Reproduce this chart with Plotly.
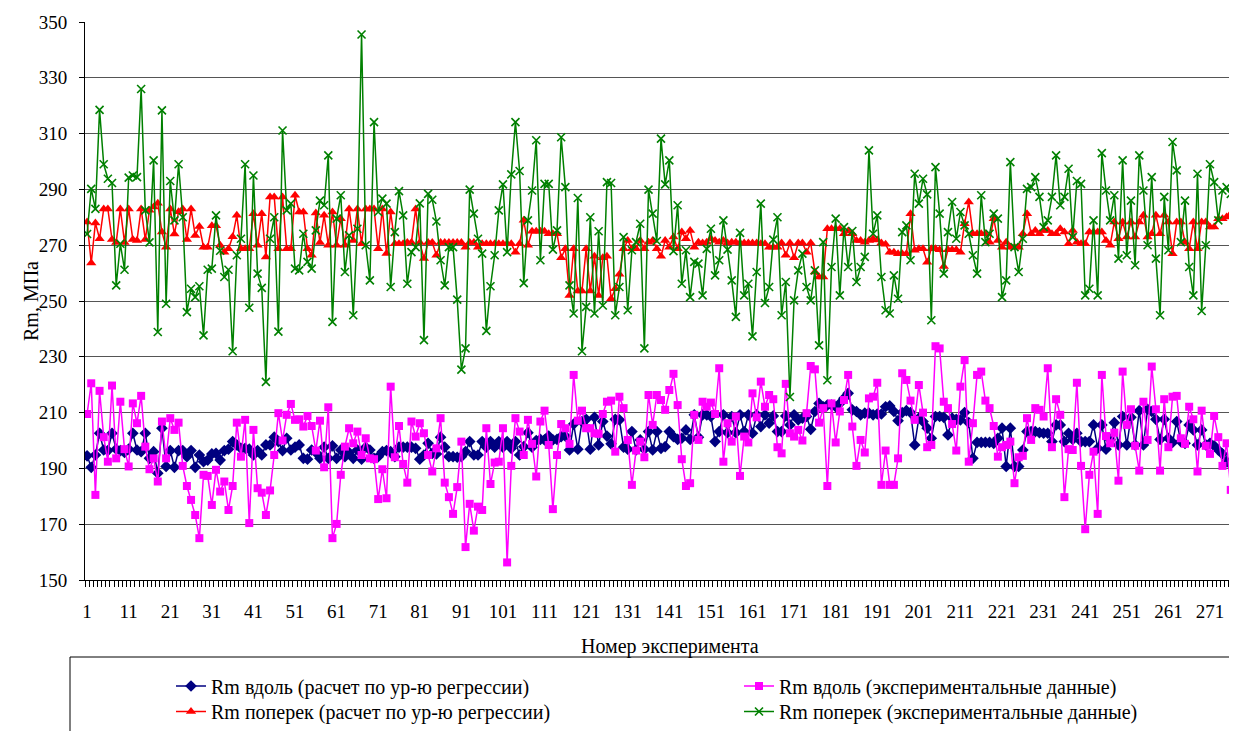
import plotly.graph_objects as go

# Rm along, regression calculation
rm_along_calc = [
    194.5, 190.4, 194.8, 202.6, 196.6, 196.4, 202.6, 196.9, 196.4, 195.7, 196.9, 202.6, 196.6, 196, 202.6, 193.6,
    196, 188.3, 204.4, 190.7, 196.4, 190.4, 196.4, 196.4, 194.2, 196.4, 190.4, 194.8, 192.4, 193, 195.2, 195.4,
    193, 196.4, 196.9, 199.6, 198.4, 197.2, 197.2, 196.9, 194.8, 196.4, 194.8, 198.4, 198.4, 201.2, 199.6,
    196.4, 200.8, 196.6, 197.6, 198.4, 193.6, 193.3, 196.6, 195.7, 193.6, 197.6, 193.6, 198.1, 193.6, 196.6, 194.2,
    195.7, 193.6, 196.6, 193.3, 197.6, 196.6, 193.6, 194.2, 196, 196.4, 196, 194.2, 197.6, 197.6, 197.6, 197.6,
    197.2, 193.3, 194.8, 199, 195.4, 195.2, 201.2, 197.6, 194.2, 194.2, 194, 194.2, 196, 199.6,
    194.8, 194.8, 199.6, 197.6, 199.6, 197.6, 199.6, 197.6, 199.6, 197.2, 199.6, 194.8, 197.8, 202.8, 197.6, 200,
    200.4, 200.2, 201.6, 200.2, 200.4, 201.4, 201.6, 196.6, 205.9, 196.9, 206.8, 207.6, 196.9, 208.3, 198.4, 206.8,
    201.6, 198.8, 207.6, 207.4, 197.6, 196.9, 203.2, 196.6, 200.2, 196.9, 203.2, 196.6, 203.2,
    197.2, 197.8, 203.2, 201.4, 200.4, 200.8, 203.8, 200.4, 209.2, 201.2, 209.2, 209.2, 208.6, 199.6, 203.2, 209.2,
    202.8, 208.6, 202.8, 209.2, 203.2, 209.2, 202.6, 209.2, 205, 209.2, 206.2, 208.8, 203.2, 203.2, 208.8, 205.6,
    209.2, 207.4, 208, 208.6, 204, 210.4, 213.3, 212.1, 212.7, 212.7, 212.1, 213.3, 215.1, 216.9,
    211, 210.4, 209.2, 209.8, 209.8, 209.2, 209.5, 209.5, 212.1, 212.4, 210.4, 207.1, 210, 210.7, 210, 198.4,
    208, 206.8, 204.4, 200.8, 208.6, 208.6, 208.3, 202, 208, 207.6, 207.4, 210, 206.4, 193.6, 199.3, 199.3,
    199.3, 199.3, 199, 200.8, 204.4, 190.7, 204.4, 190.7, 190.7, 196.6, 203.2, 203.2, 203.2,
    202.8, 202.6, 202.6, 199.6, 205.6, 205.6, 199.6, 202.6, 200.4, 202.6, 199.6, 199.6, 199.6, 205.6, 197.2, 205.6,
    196.9, 200.4, 206.4, 198.4, 208.6, 198.4, 208.3, 198.4, 210.7, 198.4, 211.2, 210.4, 207.6, 200.4, 207.6, 200.8,
    199.3, 206.8, 199.6, 199, 205.6, 203.8, 198.4, 203.8, 198.4, 199, 198.1, 196.6, 195.2, 192.4, 191.3, 190.9,
]

# Rm along, experimental data
rm_along_exp = [
    209.5, 220.5, 180.5, 217.8, 201.2, 192.4, 219.7, 193.6, 213.9, 196.9, 190.7, 213.3, 206.2, 216, 197.8, 189.7,
    193.6, 185.3, 206.8, 193.6, 208, 203.8, 206.4, 190.9, 183.7, 178.7, 173.3, 165, 187.7, 187.3, 176.9, 189.5,
    181.7, 185.3, 175.1, 183.7, 206.4, 194.2, 207.4, 170.4, 203.8, 182.9, 181.3, 173.3, 182.1, 194.8, 209.8,
    200, 209.2, 213.1, 207.4, 207.6, 205, 208.8, 205.2, 196.4, 207.1, 190.4, 211.9, 165, 170.1, 187.7, 197.8,
    204.4, 199, 203.2, 194.8, 200.8, 193.6, 193.3, 179, 189.7, 179.3, 219.3, 194, 205.2, 191.6, 184.9, 206.8,
    201.4, 206.2, 202.6, 194.8, 188.9, 197.2, 208, 184.9, 179.7, 173.7, 183.3, 199.6, 161.8, 177.3,
    167.7, 176.3, 175.1, 204.4, 184.4, 192.1, 192.4, 204.4, 156.3, 190.9, 208, 203.2, 194.8, 207.4, 198.8, 187.1,
    206.8, 210.7, 198.4, 175.4, 194.8, 205.9, 204.4, 198.8, 223.5, 207.1, 210.7, 204.4, 204.4, 202.6, 202.4, 209.5,
    213.9, 214.3, 196, 215.7, 211.6, 200.2, 184.1, 196.4, 199.6, 194, 216.3, 205.6, 216.3,
    214.5, 211, 218.1, 223.9, 212.7, 193.3, 183.7, 184.7, 209.2, 200.2, 213.9, 212.1, 213.6, 209.5, 225.9, 192.4,
    206.2, 199.6, 208.6, 187.3, 201.4, 199.3, 216.9, 208.3, 221.1, 212.1, 216.3, 214.8, 197.6, 195.4, 220.3, 202.6,
    201.4, 203.8, 200, 209.8, 226.7, 225.5, 206.4, 211.6, 183.7, 213.3, 199.3, 210.4, 214.5, 223.5,
    205, 190.9, 200.2, 195.7, 215.1, 215.7, 220.7, 184.1, 196.4, 184.1, 184.1, 193.6, 224.1, 221.7, 214.3, 207.4,
    219.9, 210, 197.6, 198.4, 233.8, 233, 213.9, 211.6, 205.9, 196.4, 219.3, 228.8, 192.4, 206.2, 223.5, 224.7,
    214.3, 211.6, 205.2, 194.2, 197.6, 198.4, 199.6, 184.7, 194, 194.5, 208, 200.2, 211.6,
    211, 208.6, 225.9, 197.6, 214.8, 209.2, 179.7, 196.9, 196.6, 220.7, 190.9, 168.2, 187.7, 196, 173.7, 223.5,
    201.6, 199, 202.8, 185.6, 224.7, 205.6, 211.2, 198.1, 189.2, 213.9, 200.2, 226.5, 211.2, 189.2, 214.8, 197.6,
    215.7, 216, 200.8, 198.8, 212.1, 207.6, 188.9, 210.7, 198.1, 195.2, 208.8, 201.2, 190.9, 199, 182.3, 190.4,
]

# Rm across, regression calculation
rm_across_calc = [
    278.3, 263.6, 278, 272.3, 283, 283, 272, 271, 283, 271, 283, 272, 271.7, 283, 272, 282.5,
    283.7, 285, 274.7, 269.3, 283, 274, 282, 283, 272, 283, 273.5, 276.7, 269.3, 269.3, 277, 277,
    270, 267.5, 268.7, 273, 280.7, 268.7, 268.7, 268.7, 281.3, 270, 281.3, 265.8, 287.3, 287.3, 268.7,
    287.3, 268.7, 268.7, 287.9, 281.9, 281.9, 268.7, 266.4, 281.5, 271, 280.7, 270, 281.9, 270, 279.5,
    270, 283, 271.7, 283, 270.5, 283, 283, 283, 268.7, 283, 267, 281.9, 270.5, 270.5, 270.5, 271,
    271, 283, 271, 265.2, 271, 271, 266.4, 271, 271, 271, 271, 271, 271,
    269.3, 271, 271, 269.3, 270.5, 270.5, 270.5, 270.5, 270.5, 270.5, 270.5, 270.5, 267.5, 270.5, 278.9, 270,
    275, 275, 275, 275, 274.1, 274.1, 274.1, 265.5, 268.7, 252, 268.7, 253.6, 253.6, 268.7, 253.6, 266,
    252, 265.5, 266, 250.8, 254.4, 259.6, 268.7, 271.7, 268.7, 268.7, 271.7, 268.7, 271.1, 271.7,
    268.7, 266, 271.7, 269.3, 272.9, 268.7, 274.7, 272.3, 275.3, 269.3, 271.1, 270.8, 271.1, 272.3, 271.7, 271.1,
    271.7, 270.8, 271.1, 271.1, 270.8, 270.8, 270.8, 270.8, 270.8, 270.5, 270.5, 269.3, 269.3, 269.3, 270.8, 266.4,
    270.8, 265.5, 270.8, 270.8, 267.5, 270.8, 260.4, 258.6, 258.6, 275.9, 275.9, 275.9, 275.9, 274.1,
    275.1, 274.1, 271.7, 271.7, 271.1, 271.7, 272.3, 271.9, 270.8, 270.3, 267.5, 267.5, 266.9, 266.9, 266.9, 281.3,
    268.2, 268.7, 268.7, 263.9, 268.7, 268.7, 268.4, 262.4, 268.4, 268.4, 268.4, 267.5, 277.7, 285.5, 274.1, 274.1,
    274.1, 274.1, 271.1, 279.5, 271.7, 269.3, 271.1, 269.3, 269.3, 269.3, 274.1, 281.3, 274.1,
    275.3, 274.1, 275.3, 275.3, 274.1, 274.1, 275.9, 274.7, 270.5, 275.3, 271.1, 270.5, 270.5, 274.7, 274.7, 274.7,
    274.7, 271.7, 270, 278.3, 272.3, 278.3, 272.9, 278.3, 272.9, 278.3, 280.7, 272.9, 274.1, 280.7, 274.1, 280.7,
    278.3, 266.9, 278.3, 278.3, 271.1, 268.7, 278.3, 268.7, 278.3, 278.3, 276.5, 276.5, 279.5, 279.5, 280.1, 281.3,
]

# Rm across, experimental data
rm_across_exp = [
    274, 290.2, 283, 318.5, 299, 293.8, 292.3, 255.6, 270.5, 261.2, 294.2, 295, 294.4, 326, 282.5, 271,
    300.4, 238.9, 318.3, 249, 293, 278.9, 299, 280, 246, 254.4, 251.4, 255.3, 237.7, 261.2, 261.6, 280.7,
    268, 258.6, 261.2, 232, 266.4, 272.3, 299, 247.6, 295, 259.8, 254.7, 221, 272.3, 280, 239,
    311.1, 282.5, 284.9, 261.6, 261, 274.1, 264, 261.6, 275.3, 286, 284.3, 302.2, 242.5, 279.5, 287.9, 260.4,
    273.5, 244.9, 275.9, 345.5, 270, 257.4, 314.1, 281.9, 286.7, 284.9, 255, 274.7, 289.4, 280.7, 256.2, 267.5,
    269.3, 285, 236, 288.4, 286.3, 278.5, 264.6, 255.6, 269.3, 269.3, 250.5, 225.4, 233,
    289.9, 281.3, 272.3, 267, 239.3, 255.3, 266.4, 282.5, 291.8, 267.5, 295.4, 314.1, 296.6, 256.4, 278.9, 289.6,
    307.6, 264.6, 292, 292, 268.4, 275.3, 308.7, 290.8, 255.6, 245.5, 286.9, 232, 247.9, 280, 245.5, 275,
    248.4, 292.6, 292.3, 244.9, 255, 272.9, 246.7, 268.2, 271.1, 277.7, 233, 289.9, 281.3, 271.5,
    308.2, 291.8, 300.4, 267.9, 284.3, 256.2, 268.2, 251.4, 264, 263.4, 252, 268.7, 275.9, 259.2, 264.6, 278.9,
    268.4, 257.4, 244.3, 274.4, 252, 256.2, 237.3, 260.4, 284.9, 249.3, 255, 272, 280, 244.9, 256.8, 215.6,
    250.2, 261, 267, 255, 250.2, 261, 234.1, 271.1, 221.6, 262.2, 279.5, 252, 276.5, 262.2,
    275.1, 256.8, 262.2, 265.8, 304, 274.1, 280.7, 258.6, 246.7, 245.5, 259.2, 250.8, 274.7, 277.1, 264.6, 295.6,
    284.9, 293.8, 288.2, 243.1, 298, 281.3, 259.8, 274.7, 285.5, 272.3, 281.9, 277.1, 274.1, 266.4, 259.8, 287.9,
    271.1, 274.1, 281.3, 279.5, 251.4, 257.4, 299.8, 269.3, 260.4, 272.3, 290.2, 290.8, 294.4,
    287.3, 276.5, 278.9, 287.3, 302.2, 284.3, 287.3, 297.4, 272.9, 293, 292, 252, 254.4, 278.9, 252, 303,
    289.6, 278.9, 287.9, 265.2, 300.4, 266.4, 286, 262.8, 302.2, 289.6, 270, 294.4, 265.2, 244.9, 287.3, 268.2,
    307, 296.8, 271.1, 286, 262.2, 252, 295.6, 246.4, 270, 299, 292.6, 278.9, 289.6, 290.8, 288.4, 290.8,
]

series_names = [
    "Rm вдоль (расчет по ур-ю регрессии)",
    "Rm вдоль (экспериментальные данные)",
    "Rm поперек (расчет по ур-ю регрессии)",
    "Rm поперек (экспериментальные данные)",
]

n_points = max(len(rm_along_calc), len(rm_along_exp), len(rm_across_calc), len(rm_across_exp))
x_tick_values = list(range(1, n_points + 1, 10))
y_tick_values = list(range(150, 351, 20))

FONT = "Liberation Serif"
TICK_SIZE = 19
TEXT_SIZE = 20

# the page body adds an 8 px margin, so the figure is 8 px smaller on each side
# and every position below is given in window pixels
PAGE_OFFSET = 8
W, H = 1237 - PAGE_OFFSET, 731 - PAGE_OFFSET
PLOT_TOP, PLOT_BOTTOM, PLOT_LEFT = 22, 580, 85
TOP = PLOT_TOP - PAGE_OFFSET
PAPER_H = H - TOP


def px_x(sx):
    return (sx - PAGE_OFFSET) / W


def px_y(sy):
    return (H - (sy - PAGE_OFFSET)) / PAPER_H


# (values, colour, marker, size, legend id, legend x px, legend y px, anchor)
# the second legend row sits on the page bottom so it does not push the margins
styles = [
    (rm_along_calc, "#000080", "diamond", 9, "legend", 171, 686, "middle"),
    (rm_along_exp, "#FF00FF", "square", 8, "legend2", 739, 686, "middle"),
    (rm_across_calc, "#FF0000", "triangle-up", 9, "legend3", 171, 731, "bottom"),
    (rm_across_exp, "#008000", "x-thin", 8, "legend4", 739, 731, "bottom"),
]

fig = go.Figure()
legends = {}

for (values, color, symbol, size, legend_id, lx, ly, anchor), name in zip(styles, series_names):
    marker = dict(symbol=symbol, size=size, color=color, line=dict(width=0))
    if symbol == "x-thin":
        marker = dict(symbol=symbol, size=size, color=color, line=dict(width=1.6, color=color))
    fig.add_trace(
        go.Scatter(
            x=list(range(1, len(values) + 1)),
            y=values,
            mode="lines+markers",
            line=dict(color=color, width=1.5),
            marker=marker,
            name=name,
            legend=legend_id,
            showlegend=True,
        )
    )
    legends[legend_id] = dict(
        xref="paper", yref="paper",
        x=px_x(lx), y=px_y(ly),
        xanchor="left", yanchor=anchor,
        font=dict(family=FONT, size=TEXT_SIZE, color="black"),
        bgcolor="rgba(0,0,0,0)",
        borderwidth=0,
        visible=True,
    )

fig.update_layout(
    width=W,
    height=H,
    margin=dict(l=0, r=0, t=TOP, b=0),
    showlegend=True,
    paper_bgcolor="white",
    plot_bgcolor="white",
    font=dict(family=FONT, size=TICK_SIZE, color="black"),
    xaxis=dict(
        domain=[px_x(PLOT_LEFT), 1],
        range=[0.5, n_points + 0.5],
        tickmode="array",
        tickvals=x_tick_values,
        ticktext=[str(v) for v in x_tick_values],
        ticks="",
        ticklabelstandoff=14,
        automargin=False,
        showgrid=False,
        zeroline=False,
        showline=True,
        linecolor="black",
        linewidth=1,
        tickfont=dict(family=FONT, size=TICK_SIZE, color="black"),
        minor=dict(tick0=0.5, dtick=1, ticks="outside", ticklen=6, tickcolor="black", tickwidth=1, showgrid=False),
    ),
    yaxis=dict(
        domain=[px_y(PLOT_BOTTOM), 1],
        range=[150, 350],
        tickmode="array",
        tickvals=y_tick_values,
        ticks="outside",
        ticklen=5,
        tickcolor="black",
        ticklabelstandoff=8,
        automargin=False,
        showgrid=True,
        gridcolor="#555555",
        gridwidth=1,
        zeroline=False,
        showline=True,
        linecolor="black",
        linewidth=1,
        tickfont=dict(family=FONT, size=TICK_SIZE, color="black"),
    ),
    annotations=[
        dict(
            text="Номер эксперимента",
            xref="paper", yref="paper",
            x=px_x(670), y=px_y(646),
            showarrow=False,
            font=dict(family=FONT, size=TEXT_SIZE, color="black"),
            yanchor="middle",
        ),
        dict(
            text="Rm, МПа",
            xref="paper", yref="paper",
            x=px_x(18), y=px_y((PLOT_TOP + PLOT_BOTTOM) / 2),
            textangle=-90,
            showarrow=False,
            font=dict(family=FONT, size=TEXT_SIZE, color="black"),
        ),
    ],
    shapes=[
        dict(
            type="rect",
            xref="paper", yref="paper",
            x0=px_x(70), x1=px_x(1245), y0=px_y(745), y1=px_y(657),
            line=dict(color="black", width=1),
            fillcolor="rgba(0,0,0,0)",
        )
    ],
)
fig.update_layout(**legends)

fig.write_html("out.html")
